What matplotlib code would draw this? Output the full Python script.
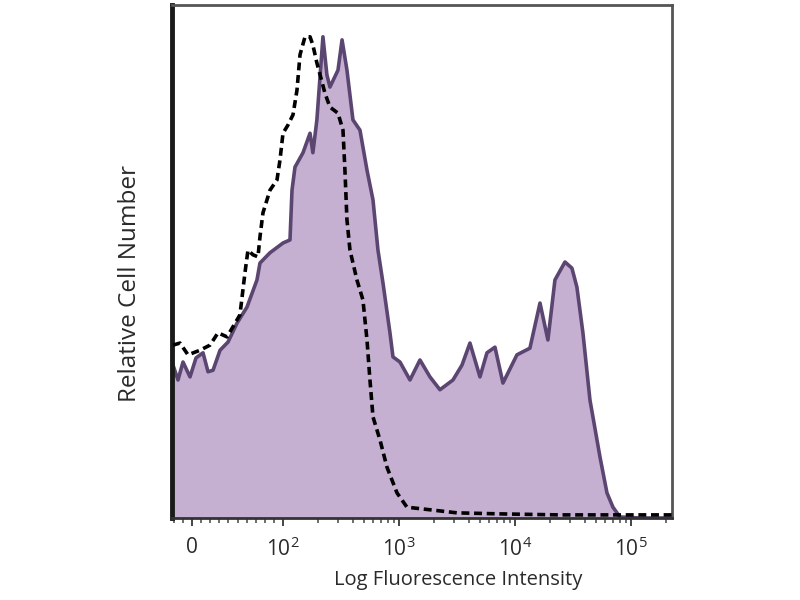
import matplotlib
matplotlib.use("Agg")
import matplotlib.pyplot as plt
from matplotlib.ticker import FixedLocator, FixedFormatter, NullFormatter

# Stained sample (filled, purple)
stained_x = [-20.9, -15.4, -9.9, -2.2, 4.4, 12.1, 17.6, 23.1, 30.8, 39.6, 49.5, 60.4, 71.4, 74.7, 85.7,
             100, 114.9, 119.6, 126.9, 148.8, 171, 181, 196, 221, 239, 254, 298, 323, 356, 401, 461,
             530, 597, 659, 728, 836, 888, 1020, 1244, 1517, 1850, 2256, 2921, 3493, 4093, 4992, 5737,
             6725, 7880, 10400, 13460, 16440, 19240, 22120, 26990, 30990, 34210, 38550, 44330, 54080,
             62120, 70000, 80380, 119700, 230000]
stained_y = [29.8, 26.9, 30.4, 27.5, 31.2, 32.2, 28.5, 28.8, 32.7, 34.3, 38.0, 41.1, 46.4, 49.7, 51.7,
             53.6, 54.2, 63.9, 68.4, 71.2, 75.0, 71.2, 77.6, 93.8, 86.4, 84.0, 87.3, 93.2, 87.3, 77.6, 75.6,
             67.8, 62.0, 52.2, 45.8, 36.1, 31.4, 30.4, 26.9, 30.8, 27.5, 25.0, 26.9, 29.8, 34.1, 27.5, 32.2,
             33.3, 26.3, 31.8, 33.1, 41.9, 34.7, 46.4, 49.9, 48.7, 45.0, 36.1, 23.0, 11.9,
             4.9, 2.1, 0.2, 0.0, 0.0]

# Isotype control (dashed)
control_x = [-20.9, -13.2, -4.4, 8.8, 19.8, 28.6, 38.5, 52.7, 58.2, 61.5, 67.0, 72.5, 74.7, 78.0, 85.7,
             93.4, 96.7, 100, 110.4, 122, 132, 140.2, 154.8, 171, 181, 196, 216.9, 230, 254, 298, 329,
             342, 356, 378, 434, 489, 530, 562, 597, 686, 788, 961, 1172, 1850, 3162, 7430, 24430,
             119700, 230000]
control_y = [33.7, 34.1, 31.8, 32.7, 33.7, 36.1, 35.3, 39.6, 47.8, 52.2, 51.3, 50.9, 54.8, 59.5, 63.9,
             65.9, 69.8, 75.0, 76.6, 78.6, 83.4, 90.3, 93.8, 93.8, 92.2, 88.7, 85.0, 82.8, 80.1, 78.9, 75.6,
             67.8, 58.1, 52.2, 46.4, 42.5, 34.7, 26.9, 19.7, 15.2, 9.9, 4.9, 2.1, 1.6, 1.0, 0.8, 0.6,
             0.6, 0.6]

tick_values = [0, 100, 1000, 10000, 100000]
tick_labels = ["0", r"$10^2$", r"$10^3$", r"$10^4$", r"$10^5$"]

plt.rcParams['font.family'] = ['Open Sans', 'DejaVu Sans']
plt.rcParams['mathtext.fontset'] = 'custom'
plt.rcParams['mathtext.rm'] = 'Open Sans'

fig = plt.figure(figsize=(8, 6), dpi=100)
ax = fig.add_axes([0.215, 0.1367, 0.625, 0.855])
ax.set_xscale('symlog', linthresh=100, linscale=0.706)

ax.fill_between(stained_x, stained_y, 0, color='#c6b0d2', linewidth=0, zorder=1)
ax.plot(stained_x, stained_y, color='#5b4672', linewidth=2.6, zorder=2)
ax.plot(control_x, control_y, color='black', linewidth=2.6, linestyle=(0, (2.2, 1.3)), zorder=3)

ax.set_xlim(-22, 226000)
ax.set_ylim(0, 100)

ax.xaxis.set_major_locator(FixedLocator(tick_values))
ax.xaxis.set_major_formatter(FixedFormatter(tick_labels))
minor = [-20, -10, 10, 20, 30, 40, 50, 60, 70, 80, 90]
for dec in [100, 1000, 10000, 100000]:
    minor += [dec * k for k in range(2, 10)]
ax.xaxis.set_minor_locator(FixedLocator(minor))
ax.xaxis.set_minor_formatter(NullFormatter())
ax.tick_params(axis='x', which='major', direction='out', length=6, width=1.4, color='#444444',
               labelsize=15, pad=8, labelcolor='#2a2a2a')
ax.tick_params(axis='x', which='minor', direction='out', length=3.5, width=1.2, color='#555555')
ax.set_yticks([])

for side in ['top', 'right']:
    ax.spines[side].set_color('#555555')
    ax.spines[side].set_linewidth(2.0)
ax.spines['left'].set_color('#1a1a1a')
ax.spines['left'].set_linewidth(3.5)
ax.spines['bottom'].set_color('#333333')
ax.spines['bottom'].set_linewidth(2.0)

ax.set_xlabel("Log Fluorescence Intensity", fontsize=14.5, color='#2a2a2a')
ax.xaxis.set_label_coords(0.572, -0.121)
ax.xaxis.label.set_va('center')
ax.set_ylabel("Relative Cell Number", fontsize=17.5, color='#2a2a2a')
ax.yaxis.set_label_coords(-0.084, 0.458)
ax.yaxis.label.set_va('center')

fig.savefig("out.png", dpi=100)
